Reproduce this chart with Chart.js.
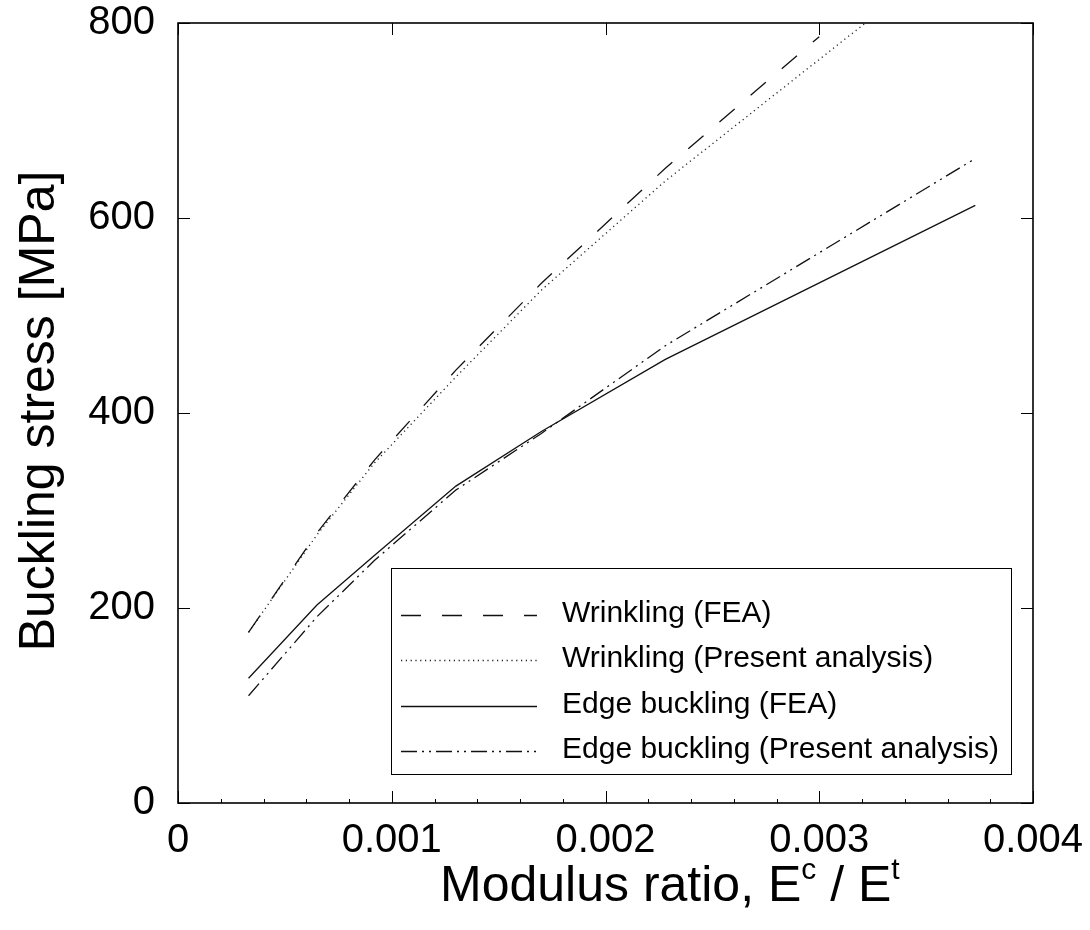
<!DOCTYPE html>
<html>
<head>
<meta charset="utf-8">
<script src="https://cdn.jsdelivr.net/npm/chart.js@4.4.1/dist/chart.umd.min.js"></script>
<style>
  html, body { margin: 0; padding: 0; background: #fff; }
  #wrap { width: 1090px; height: 930px; }
</style>
</head>
<body>
<div id="wrap"><canvas id="bucklingChart"></canvas></div>
<script>
// values
const modulusRatio = [0.00033, 0.00065, 0.00092, 0.0013, 0.0017, 0.00228, 0.00373];
const wrinklingFeaRatio = [0.00033, 0.00065, 0.00092, 0.0013, 0.0017, 0.00228, 0.003];
const wrinklingFea = [175, 277, 352, 444, 533, 651, 786];
const wrinklingPresent = [175, 275, 349, 437, 526, 638, 889];
const edgeFea = [128, 203, 254, 325, 381, 455, 613];
const edgePresent = [110, 191, 249, 321, 379, 469, 661];
const seriesLabels = [
  "Wrinkling (FEA)",
  "Wrinkling (Present analysis)",
  "Edge buckling (FEA)",
  "Edge buckling (Present analysis)",
];
const xTickStep = 0.001;
const xMinorStep = 0.0002;
const yTickStep = 200;

const FONT = '"Liberation Sans", Arial, Helvetica, sans-serif';

const lineStyles = [
  { dash: [20, 21], width: 1.3, color: "#111" },
  { dash: [1.2, 3.6], width: 1.3, color: "#222" },
  { dash: [], width: 1.3, color: "#111" },
  { dash: [16, 5, 2, 5, 2, 5], width: 1.3, color: "#111" },
];

function toPoints(xs, values) {
  return xs.map((x, i) => ({ x: x, y: values[i] }));
}

const seriesData = [
  toPoints(wrinklingFeaRatio, wrinklingFea),
  toPoints(modulusRatio, wrinklingPresent),
  toPoints(modulusRatio, edgeFea),
  toPoints(modulusRatio, edgePresent),
];

// frame box + inward ticks like the original plot
const frameTicks = {
  id: "frameTicks",
  afterDatasetsDraw(chart) {
    const { ctx, chartArea: a, scales } = chart;
    const x = scales.x, y = scales.y;
    ctx.save();
    ctx.strokeStyle = "#000";
    ctx.lineWidth = 1.6;
    ctx.strokeRect(a.left, a.top, a.right - a.left, a.bottom - a.top);
    ctx.lineWidth = 1;
    ctx.beginPath();
    x.ticks.forEach((t) => {
      const px = Math.round(x.getPixelForValue(t.value)) + 0.5;
      ctx.moveTo(px, a.bottom);
      ctx.lineTo(px, a.bottom - 12);
      ctx.moveTo(px, a.top);
      ctx.lineTo(px, a.top + 12);
    });
    for (let i = 0; i * xMinorStep <= x.max + 1e-12; i++) {
      const px = Math.round(x.getPixelForValue(i * xMinorStep)) + 0.5;
      ctx.moveTo(px, a.bottom);
      ctx.lineTo(px, a.bottom - 4);
    }
    y.ticks.forEach((t) => {
      const py = Math.round(y.getPixelForValue(t.value)) + 0.5;
      ctx.moveTo(a.left, py);
      ctx.lineTo(a.left + 12, py);
      ctx.moveTo(a.right, py);
      ctx.lineTo(a.right - 12, py);
    });
    ctx.stroke();
    ctx.restore();
  },
};

// boxed legend inside the plot area
const boxLegend = {
  id: "boxLegend",
  afterDraw(chart) {
    const ctx = chart.ctx;
    const box = { left: 391, top: 568, right: 1011, bottom: 774 };
    const rows = [615, 660, 706, 751];
    ctx.save();
    ctx.fillStyle = "#fff";
    ctx.fillRect(box.left, box.top, box.right - box.left, box.bottom - box.top);
    ctx.strokeStyle = "#000";
    ctx.lineWidth = 1;
    ctx.strokeRect(box.left + 0.5, box.top + 0.5, box.right - box.left, box.bottom - box.top);
    chart.data.datasets.forEach((ds, i) => {
      const yy = rows[i] + 0.5;
      ctx.strokeStyle = ds.borderColor;
      ctx.lineWidth = ds.borderWidth;
      ctx.setLineDash(ds.borderDash || []);
      ctx.beginPath();
      ctx.moveTo(401, yy);
      ctx.lineTo(537, yy);
      ctx.stroke();
      ctx.setLineDash([]);
      ctx.fillStyle = "#000";
      ctx.font = "30px " + FONT;
      ctx.textBaseline = "middle";
      ctx.textAlign = "left";
      ctx.fillText(ds.label, 562, rows[i] - 1);
    });
    ctx.restore();
  },
};

// axis titles, x title has superscripts
const axisTitles = {
  id: "axisTitles",
  afterDraw(chart) {
    const ctx = chart.ctx;
    ctx.save();
    ctx.fillStyle = "#000";
    ctx.textBaseline = "alphabetic";
    ctx.textAlign = "left";
    let cx = 440;
    const base = 901;
    const parts = [
      ["Modulus ratio, E", 50, 0],
      ["c", 30, -22],
      [" / E", 50, 0],
      ["t", 30, -22],
    ];
    parts.forEach(([txt, size, dy]) => {
      ctx.font = size + "px " + FONT;
      ctx.fillText(txt, cx, base + dy);
      cx += ctx.measureText(txt).width;
    });

    ctx.translate(54, 411);
    ctx.rotate(-Math.PI / 2);
    ctx.textAlign = "center";
    ctx.font = "50px " + FONT;
    ctx.fillText("Buckling stress [MPa]", 0, 0);
    ctx.restore();
  },
};

const ctx = document.getElementById("bucklingChart");
new Chart(ctx, {
  type: "line",
  data: {
    datasets: seriesData.map((pts, i) => ({
      label: seriesLabels[i],
      data: pts,
      borderColor: lineStyles[i].color,
      borderWidth: lineStyles[i].width,
      borderDash: lineStyles[i].dash,
      pointRadius: 0,
      tension: 0,
      fill: false,
    })),
  },
  options: {
    responsive: true,
    maintainAspectRatio: false,
    animation: false,
    layout: { padding: { top: 23, right: 57, left: 0, bottom: 0 } },
    plugins: {
      legend: { display: false },
      tooltip: { enabled: false },
    },
    scales: {
      x: {
        type: "linear",
        min: 0,
        max: 0.004,
        grid: { display: false, drawTicks: false },
        border: { display: false },
        afterFit(scale) {
          scale.height = 127;
          scale.paddingLeft = 0;
          scale.paddingRight = 0;
        },
        ticks: {
          stepSize: xTickStep,
          padding: 14,
          color: "#000",
          font: { family: FONT, size: 40 },
          maxRotation: 0,
          callback: (v) => (v === 0 ? "0" : v.toFixed(3)),
        },
      },
      y: {
        min: 0,
        max: 800,
        grid: { display: false, drawTicks: false },
        border: { display: false },
        afterFit(scale) {
          scale.width = 178;
          scale.paddingTop = 0;
          scale.paddingBottom = 0;
        },
        ticks: {
          stepSize: yTickStep,
          padding: 23,
          color: "#000",
          font: { family: FONT, size: 40 },
        },
      },
    },
  },
  plugins: [frameTicks, boxLegend, axisTitles],
});
</script>
</body>
</html>
